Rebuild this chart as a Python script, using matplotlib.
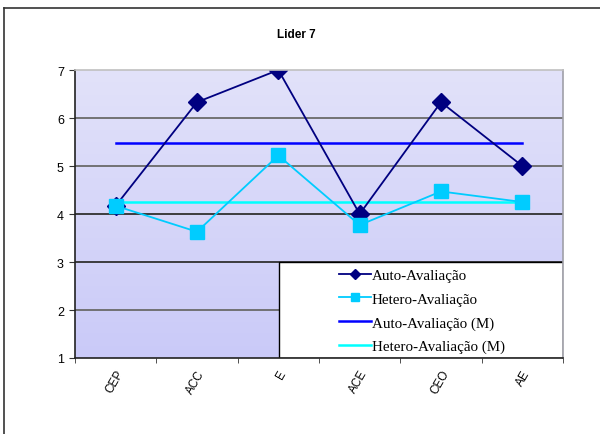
import numpy as np
import matplotlib.pyplot as plt
from matplotlib.patches import Rectangle
from matplotlib.lines import Line2D
from matplotlib.colors import LinearSegmentedColormap

# data
categories = ["CEP", "ACC", "E", "ACE", "CEO", "AE"]
auto = [4.17, 6.33, 7.0, 4.0, 6.33, 5.0]
hetero = [4.17, 3.63, 5.22, 3.77, 4.47, 4.25]
auto_mean = np.mean(auto)
hetero_mean = np.mean(hetero)

fig = plt.figure(figsize=(6, 4.35), dpi=100)
ax = fig.add_axes([75 / 600, 76 / 435, 488 / 600, 288 / 435])

# outer frame (top and left edges only visible)
fig.add_artist(Line2D([4 / 600, 1], [1 - 9 / 435, 1 - 9 / 435], color="#333333", lw=1.2))
fig.add_artist(Line2D([4 / 600, 4 / 600], [0, 1 - 9 / 435], color="#333333", lw=1.2))

x = np.arange(len(categories))
ax.set_xlim(-0.5, len(categories) - 0.5)
ax.set_ylim(1, 7)

# gradient background
grad = np.linspace(0, 1, 256).reshape(-1, 1)
cmap = LinearSegmentedColormap.from_list("bg", ["#CACAF8", "#E2E2FA"])
ax.imshow(grad, aspect="auto", cmap=cmap, origin="lower",
          extent=[-0.5, len(categories) - 0.5, 1, 7], zorder=0)

for yv in [2, 3, 4, 5, 6]:
    ax.axhline(yv, color="#6a6a6a" if yv in (2, 5, 6) else "#303030", lw=1.3, zorder=1)

ax.plot(x, auto, color="#000080", lw=1.3, marker="D", markersize=9.5,
        markerfacecolor="#000080", markeredgecolor="#000080", zorder=4, label="Auto-Avaliação")
ax.plot(x, hetero, color="#00CCFF", lw=1.3, marker="s", markersize=10.5,
        markerfacecolor="#00CCFF", markeredgecolor="#00CCFF", zorder=5, label="Hetero-Avaliação")
ax.plot([x[0], x[-1]], [auto_mean, auto_mean], color="#0000FF", lw=1.8, zorder=3,
        label="Auto-Avaliação (M)")
ax.plot([x[0], x[-1]], [hetero_mean, hetero_mean], color="#00FFFF", lw=1.8, zorder=3,
        label="Hetero-Avaliação (M)")

# legend box covering the plot area
ax.add_patch(Rectangle(((279 - 75) / 488, 0), 1 - (279 - 75) / 488, 96 / 288,
                       transform=ax.transAxes, facecolor="white", edgecolor="black",
                       lw=1.0, zorder=6))
leg = ax.legend(loc="center left", bbox_to_anchor=((333 - 75) / 488, 47 / 288),
                frameon=False, handlelength=2.1, handletextpad=0.1,
                labelspacing=0.68, borderaxespad=0, markerscale=0.55,
                prop={"family": "Liberation Serif", "size": 10.8})
leg.set_zorder(7)

fig.text(296 / 600, 1 - 35 / 435, "Lider 7", fontsize=8.5, fontweight="bold",
         family="Liberation Sans", ha="center", va="center")

ax.set_yticks([1, 2, 3, 4, 5, 6, 7])
ax.tick_params(axis="y", labelsize=9, length=4, color="#333333", pad=4)
for lab in ax.get_yticklabels():
    lab.set_family("Liberation Sans")

ax.set_xticks(x)
ax.set_xticklabels(categories, rotation=60, ha="right", va="top",
                   rotation_mode="anchor", family="Liberation Sans", fontsize=8.5)
ax.tick_params(axis="x", length=0, pad=7)
ax.set_xticks(np.arange(-0.5, len(categories)), minor=True)
ax.tick_params(axis="x", which="minor", length=3.5, color="#333333")

ax.spines["top"].set_color("#c0c0c0")
ax.spines["right"].set_color("#a0a0a8")
ax.spines["left"].set_color("#222222")
ax.spines["bottom"].set_color("#222222")
for s in ax.spines.values():
    s.set_linewidth(1.2)
    s.set_zorder(8)

fig.savefig("out.png", dpi=100)
